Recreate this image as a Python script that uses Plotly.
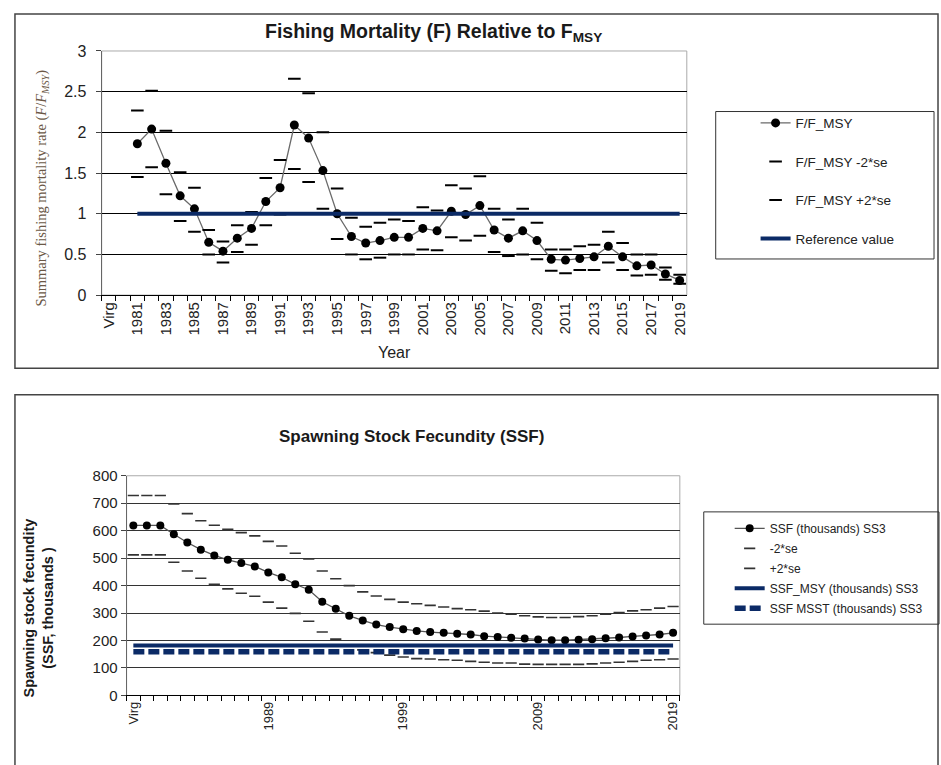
import plotly.graph_objects as go

W, H = 941, 765

def fx(px):
    return px / W

def fy(py):
    return 1 - py / H

# ---------------- data ----------------
categories = ["Virg", "1980"] + [str(y) for y in range(1981, 2020)]

top_ticktext = [c if (c == "Virg" or (c.isdigit() and int(c) % 2 == 1)) else "" for c in categories]
bottom_ticklabels = ["Virg", "1989", "1999", "2009", "2019"]
bottom_ticktext = [c if c in bottom_ticklabels else "" for c in categories]

f_fmsy = [None, None,
          1.86, 2.04, 1.62, 1.22, 1.06, 0.65, 0.54, 0.70, 0.82, 1.15,
          1.32, 2.09, 1.93, 1.53, 1.00, 0.72, 0.64, 0.67, 0.71, 0.71,
          0.82, 0.79, 1.03, 0.99, 1.10, 0.80, 0.70, 0.79, 0.67, 0.44,
          0.43, 0.45, 0.47, 0.60, 0.47, 0.36, 0.37, 0.26, 0.18]
f_upper = [None, None,
           2.27, 2.51, 2.02, 1.51, 1.32, 0.80, 0.66, 0.86, 1.02, 1.44,
           1.66, 2.66, 2.48, 2.00, 1.31, 0.95, 0.84, 0.89, 0.93, 0.91,
           1.08, 1.04, 1.35, 1.31, 1.46, 1.06, 0.93, 1.06, 0.89, 0.56,
           0.56, 0.60, 0.62, 0.78, 0.64, 0.50, 0.50, 0.34, 0.25]
f_lower = [None, None,
           1.45, 1.57, 1.24, 0.91, 0.78, 0.50, 0.40, 0.53, 0.62, 0.86,
           0.99, 1.55, 1.39, 1.06, 0.69, 0.50, 0.44, 0.46, 0.50, 0.50,
           0.56, 0.55, 0.71, 0.67, 0.73, 0.53, 0.48, 0.50, 0.44, 0.30,
           0.27, 0.31, 0.31, 0.40, 0.31, 0.24, 0.25, 0.19, 0.14]
f_reference = [None, None] + [1.0] * 39

ssf = [619, 619, 619, 587, 557, 531, 510, 494, 482, 470, 448, 430, 405, 385,
       341, 316, 290, 273, 258, 249, 241, 235, 231, 228, 225, 222, 216, 213,
       210, 207, 204, 201, 201, 203, 205, 208, 211, 215, 218, 222, 228]
ssf_upper = [728, 728, 728, 697, 662, 636, 620, 605, 593, 581, 561, 544, 518, 497,
             453, 425, 400, 377, 362, 350, 340, 334, 328, 322, 316, 312, 307, 300,
             296, 290, 286, 284, 284, 287, 290, 296, 302, 308, 312, 318, 324]
ssf_lower = [512, 512, 512, 485, 453, 427, 405, 388, 372, 361, 340, 318, 299, 270,
             231, 205, 184, 166, 156, 147, 140, 134, 133, 130, 128, 124, 121, 118,
             118, 114, 113, 113, 113, 113, 115, 118, 121, 124, 128, 130, 133]
ssf_msy = [182] * 41
ssf_msst = [159] * 41

NAVY = "#0b2a66"
FONT = "Liberation Sans, Arial, sans-serif"

fig = go.Figure()

# ---------------- top chart ----------------
fig.add_trace(go.Scatter(x=categories, y=f_fmsy, name="F/F_MSY", mode="lines+markers",
                         line=dict(color="#6a6a6a", width=1.3),
                         marker=dict(color="black", size=9, symbol="circle"),
                         xaxis="x", yaxis="y", legend="legend", legendgroup="a1"))
fig.add_trace(go.Scatter(x=categories, y=f_lower, name="F/F_MSY -2*se", mode="markers",
                         marker=dict(symbol="line-ew", size=9, line=dict(color="black", width=2)),
                         xaxis="x", yaxis="y", legend="legend", legendgroup="a2"))
fig.add_trace(go.Scatter(x=categories, y=f_upper, name="F/F_MSY +2*se", mode="markers",
                         marker=dict(symbol="line-ew", size=9, line=dict(color="black", width=2)),
                         xaxis="x", yaxis="y", legend="legend", legendgroup="a3"))
fig.add_trace(go.Scatter(x=categories, y=f_reference, name="Reference value", mode="lines",
                         line=dict(color=NAVY, width=4),
                         xaxis="x", yaxis="y", legend="legend", legendgroup="a4"))

# ---------------- bottom chart ----------------
fig.add_trace(go.Scatter(x=categories, y=ssf, name="SSF (thousands) SS3", mode="lines+markers",
                         line=dict(color="#555555", width=1.3),
                         marker=dict(color="black", size=8, symbol="circle"),
                         xaxis="x2", yaxis="y2", legend="legend2", legendgroup="b1"))
fig.add_trace(go.Scatter(x=categories, y=ssf_lower, name="-2*se", mode="markers",
                         marker=dict(symbol="line-ew", size=8, line=dict(color="#333333", width=1.6)),
                         xaxis="x2", yaxis="y2", legend="legend2", legendgroup="b2"))
fig.add_trace(go.Scatter(x=categories, y=ssf_upper, name="+2*se", mode="markers",
                         marker=dict(symbol="line-ew", size=8, line=dict(color="#333333", width=1.6)),
                         xaxis="x2", yaxis="y2", legend="legend2", legendgroup="b3"))
fig.add_trace(go.Scatter(x=categories, y=ssf_msy, name="SSF_MSY (thousands) SS3", mode="lines",
                         line=dict(color=NAVY, width=4),
                         xaxis="x2", yaxis="y2", legend="legend2", legendgroup="b4"))
fig.add_trace(go.Scatter(x=categories, y=ssf_msst, name="SSF MSST (thousands) SS3", mode="lines",
                         line=dict(color=NAVY, width=5.5, dash="11px,4px"),
                         xaxis="x2", yaxis="y2", legend="legend2", legendgroup="b5"))

common_x = dict(type="category", categoryorder="array", categoryarray=categories,
                range=[-0.5, 40.5], tickmode="array", tickvals=categories,
                tickson="boundaries", ticks="outside", ticklen=5, tickcolor="black",
                tickangle=-90, showgrid=False, showline=True, linecolor="black",
                linewidth=1, zeroline=False, fixedrange=True)

fig.update_layout(
    width=W, height=H,
    margin=dict(l=0, r=0, t=0, b=0),
    paper_bgcolor="white", plot_bgcolor="white",
    font=dict(family=FONT, color="#222222"),
    xaxis=dict(common_x, domain=[fx(100), fx(687)], anchor="y",
               ticktext=top_ticktext, tickfont=dict(size=15, family=FONT, color="#222")),
    yaxis=dict(domain=[fy(293), fy(43)], anchor="x", range=[0, 3], dtick=0.5,
               ticks="outside", ticklen=5, tickcolor="#444", showgrid=True,
               gridcolor="black", gridwidth=1, zeroline=False, showline=True,
               linecolor="#666", ticklabelstandoff=6,
               tickfont=dict(size=16, family=FONT, color="#222")),
    xaxis2=dict(common_x, domain=[fx(125), fx(680)], anchor="y2",
                ticktext=bottom_ticktext, tickfont=dict(size=13, family=FONT, color="#222")),
    yaxis2=dict(domain=[fy(703), fy(478)], anchor="x2", range=[0, 800], dtick=100,
                ticks="outside", ticklen=5, tickcolor="#444", showgrid=True,
                gridcolor="#333", gridwidth=1, zeroline=False, showline=True,
                linecolor="#666", tickfont=dict(size=15, family=FONT, color="#222")),
    legend=dict(x=fx(756), y=fy(101), xanchor="left", yanchor="top",
                bgcolor="rgba(0,0,0,0)", font=dict(size=13.5, family=FONT, color="#222"),
                traceorder="grouped", tracegroupgap=18, itemwidth=30),
    legend2=dict(x=fx(730), y=fy(517), xanchor="left", yanchor="top",
                 bgcolor="rgba(0,0,0,0)", font=dict(size=12, family=FONT, color="#222"),
                 traceorder="grouped", tracegroupgap=1, itemwidth=30),
    showlegend=True,
)

# frames and legend boxes
shapes = [
    dict(type="rect", xref="paper", yref="paper", x0=fx(13), x1=fx(939), y0=fy(368), y1=fy(5),
         line=dict(color="#444", width=1.5)),
    dict(type="rect", xref="paper", yref="paper", x0=fx(13), x1=fx(939), y0=-0.02, y1=fy(395),
         line=dict(color="#444", width=1.5)),
    dict(type="rect", xref="paper", yref="paper", x0=fx(716), x1=fx(935), y0=fy(256), y1=fy(105),
         line=dict(color="#333", width=1)),
    dict(type="rect", xref="paper", yref="paper", x0=fx(704), x1=fx(940), y0=fy(630), y1=fy(515),
         line=dict(color="#333", width=1)),
    dict(type="rect", xref="x domain", yref="y domain", x0=0, x1=1, y0=0, y1=1,
         line=dict(color="#aaa", width=1), layer="below"),
    dict(type="rect", xref="x2 domain", yref="y2 domain", x0=0, x1=1, y0=0, y1=1,
         line=dict(color="#aaa", width=1), layer="below"),
]
fig.update_layout(shapes=shapes)

def ann(text, x, y, size, family=FONT, color="#1a1a1a", angle=0):
    return dict(text=text, x=fx(x), y=fy(y), xref="paper", yref="paper", showarrow=False,
                xanchor="center", yanchor="middle", textangle=angle,
                font=dict(size=size, family=family, color=color))

annotations = [
    ann("<b>Fishing Mortality (F) Relative to F<sub>MSY</sub></b>", 433, 24, 19.5),
    ann("Summary fishing mortality rate (<i>F</i>/<i>F<sub>MSY</sub></i>)", 40, 183, 14.5,
        family="Liberation Serif, Times New Roman, serif", color="#6b5846", angle=-90),
    ann("Year", 394, 352, 16, color="#222"),
    ann("<b>Spawning Stock Fecundity (SSF)</b>", 411, 438, 17),
    ann("<b>Spawning stock fecundity<br>(SSF, thousands )</b>", 37, 613, 14.5, angle=-90),
]
fig.update_layout(annotations=annotations)

fig.write_html("out.html")
